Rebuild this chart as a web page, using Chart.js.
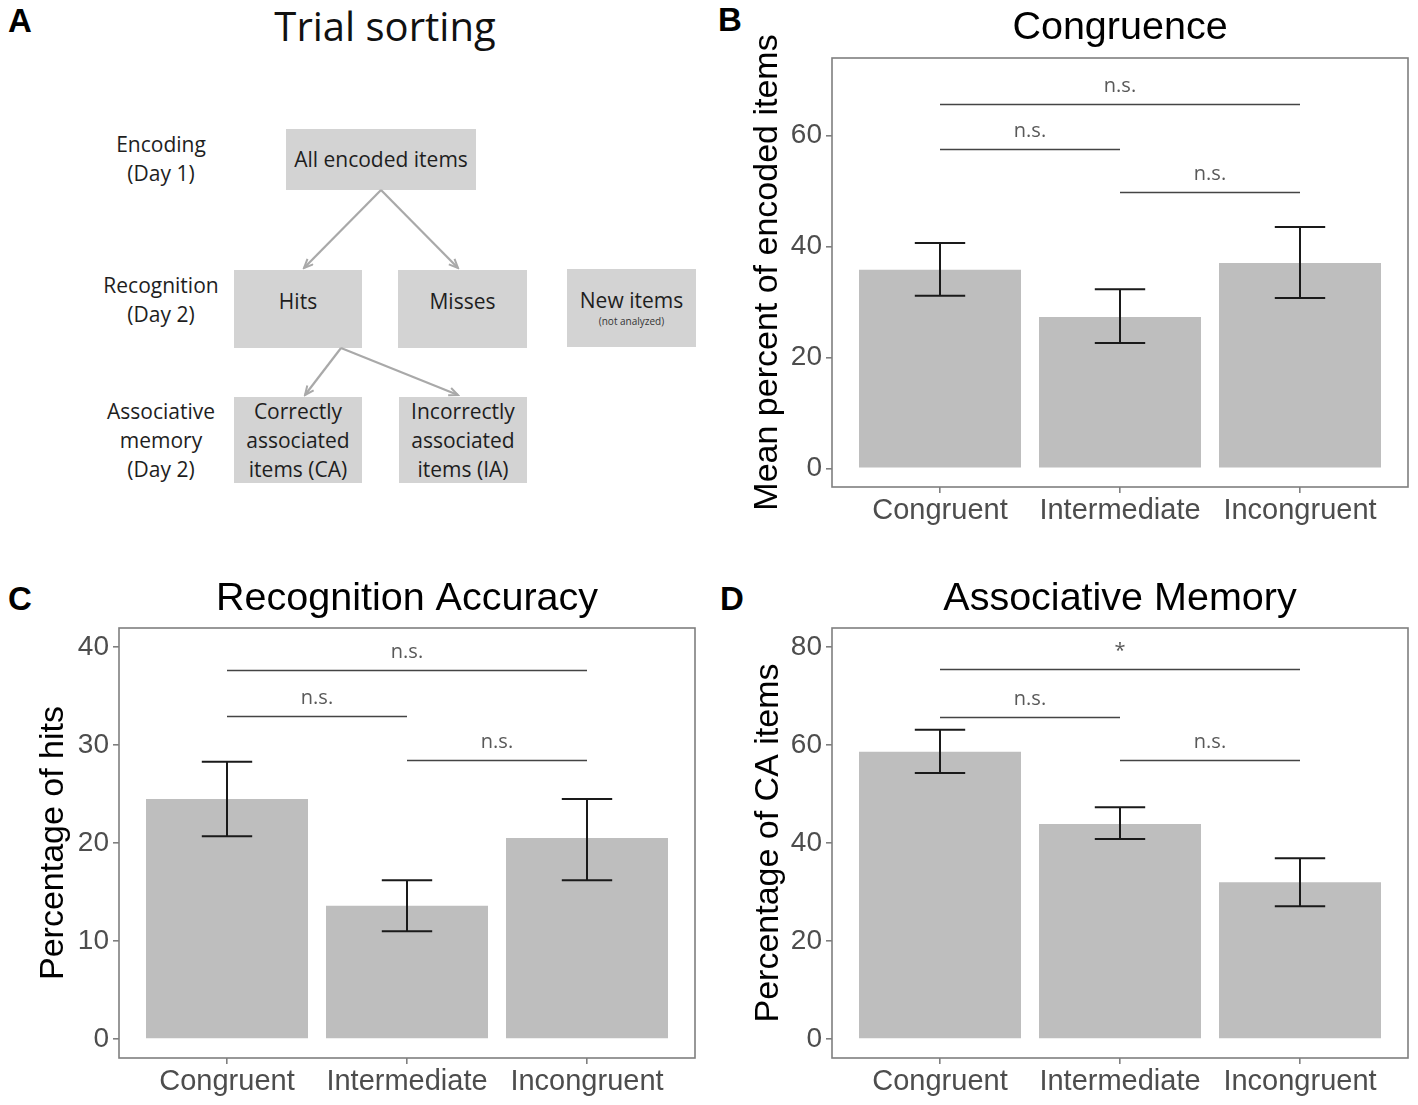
<!DOCTYPE html>
<html>
<head>
<meta charset="utf-8">
<script src="https://cdn.jsdelivr.net/npm/chart.js@4.4.1/dist/chart.umd.min.js"></script>
<style>
  html, body { margin: 0; padding: 0; background: #fff; }
  body { width: 1418px; height: 1105px; position: relative; overflow: hidden; }
  canvas { position: absolute; }
  .letter { position: absolute; font: bold 33px "Liberation Sans", Arial, sans-serif; color: #000; line-height: 1; }
  .flow { position: absolute; font-family: "Open Sans", sans-serif; color: #1e1e1e; }
  .box { position: absolute; background: #d3d3d3; display: flex; flex-direction: column;
         align-items: center; justify-content: center; text-align: center; font-size: 21px; line-height: 29px;
         box-sizing: border-box; }
  .lbl { position: absolute; text-align: center; font-size: 21px; line-height: 29px; width: 160px; }
  .small { font-size: 10px; line-height: 12px; color: #333; }
</style>
</head>
<body>

<!-- Panel A: flow diagram -->
<div class="letter" style="left:8px; top:4px;">A</div>
<div class="flow" style="left:185px; top:0px; width:400px; text-align:center; font-size:40px; line-height:52px; color:#111;">Trial sorting</div>

<div class="flow lbl" style="left:81px; top:130px;">Encoding<br>(Day 1)</div>
<div class="flow lbl" style="left:81px; top:271px;">Recognition<br>(Day 2)</div>
<div class="flow lbl" style="left:81px; top:397px;">Associative<br>memory<br>(Day 2)</div>

<div class="flow box" style="left:286px; top:129px; width:190px; height:61px;">All encoded items</div>
<div class="flow box" style="left:234px; top:270px; width:128px; height:78px; padding-bottom:16px;">Hits</div>
<div class="flow box" style="left:398px; top:270px; width:129px; height:78px; padding-bottom:16px;">Misses</div>
<div class="flow box" style="left:567px; top:269px; width:129px; height:78px; padding-bottom:4px;"><span>New items</span><span class="small">(not analyzed)</span></div>
<div class="flow box" style="left:234px; top:397px; width:128px; height:86px;">Correctly<br>associated<br>items (CA)</div>
<div class="flow box" style="left:399px; top:397px; width:128px; height:86px;">Incorrectly<br>associated<br>items (IA)</div>

<svg style="position:absolute; left:0; top:0;" width="710" height="500">
  <defs>
    <marker id="ah" markerWidth="12" markerHeight="12" refX="10" refY="5" orient="auto" markerUnits="userSpaceOnUse">
      <path d="M1,1 L10,5 L1,9" fill="none" stroke="#a9a9a9" stroke-width="2"/>
    </marker>
  </defs>
  <g stroke="#a9a9a9" stroke-width="2.2" marker-end="url(#ah)">
    <line x1="381" y1="190" x2="304" y2="268"/>
    <line x1="381" y1="190" x2="458" y2="268"/>
    <line x1="341" y1="348" x2="305" y2="395"/>
    <line x1="341" y1="348" x2="458" y2="395"/>
  </g>
</svg>

<!-- Panels B, C, D -->
<div class="letter" style="left:718px; top:3px;">B</div>
<div class="letter" style="left:8px; top:582px;">C</div>
<div class="letter" style="left:720px; top:582px;">D</div>

<canvas id="chartB" width="678" height="540" style="left:740px; top:0px;"></canvas>
<canvas id="chartC" width="690" height="535" style="left:20px; top:570px;"></canvas>
<canvas id="chartD" width="678" height="535" style="left:740px; top:570px;"></canvas>

<script>
// categories and tick labels
const categories = ['Congruent', 'Intermediate', 'Incongruent'];
const yTicksB = [0, 20, 40, 60];
const yTicksC = [0, 10, 20, 30, 40];
const yTicksD = [0, 20, 40, 60, 80];

// B: congruence (mean percent of encoded items)
const congruenceMean = [35.8, 27.3, 37.0];
const congruenceLow  = [31.1, 22.6, 30.7];
const congruenceHigh = [40.6, 32.3, 43.5];

// C: recognition accuracy (percentage of hits)
const hitsMean = [24.5, 13.6, 20.5];
const hitsLow  = [20.7, 11.0, 16.2];
const hitsHigh = [28.3, 16.2, 24.5];

// D: associative memory (percentage of CA items)
const caMean = [58.6, 43.9, 32.0];
const caLow  = [54.3, 40.8, 27.1];
const caHigh = [63.1, 47.3, 36.9];

// significance brackets (category positions 1..3)
const pairFrom = [1, 1, 2];
const pairTo   = [3, 2, 3];
const congruenceBracketY = [65.7, 57.6, 49.8];
const congruenceBracketLabel = ['n.s.', 'n.s.', 'n.s.'];
const hitsBracketY = [37.7, 33.0, 28.5];
const hitsBracketLabel = ['n.s.', 'n.s.', 'n.s.'];
const caBracketY = [75.5, 65.7, 56.9];
const caBracketLabel = ['*', 'n.s.', 'n.s.'];

const AXIS_GREY = '#7f7f7f';
const TEXT_GREY = '#4d4d4d';
const FONT = '"Liberation Sans", Arial, sans-serif';

// title, error bars, brackets and the panel frame
const extrasPlugin = {
    id: 'extras',
    afterDatasetsDraw(chart, args, o) {
        const ctx = chart.ctx;
        const x = chart.scales.x, y = chart.scales.y;
        const a = chart.chartArea;
        ctx.save();
        // title, centred on the plot panel
        ctx.fillStyle = '#000';
        ctx.font = '39.5px ' + FONT;
        ctx.textAlign = 'center';
        ctx.textBaseline = 'alphabetic';
        ctx.fillText(o.title, (a.left + a.right) / 2, o.titleBase);
        // error bars
        ctx.strokeStyle = '#1a1a1a';
        ctx.lineWidth = 2;
        o.low.forEach((lo, i) => {
            const cx = x.getPixelForValue(i + 1);
            const l = x.getPixelForValue(i + 1 - 0.14), r = x.getPixelForValue(i + 1 + 0.14);
            const yl = y.getPixelForValue(lo), yh = y.getPixelForValue(o.high[i]);
            ctx.beginPath();
            ctx.moveTo(cx, yl); ctx.lineTo(cx, yh);
            ctx.moveTo(l, yl); ctx.lineTo(r, yl);
            ctx.moveTo(l, yh); ctx.lineTo(r, yh);
            ctx.stroke();
        });
        // brackets
        ctx.strokeStyle = '#444';
        ctx.lineWidth = 1.5;
        ctx.fillStyle = '#595959';
        ctx.font = '20px "Open Sans", sans-serif';
        o.bracketY.forEach((by, i) => {
            const x1 = x.getPixelForValue(pairFrom[i]), x2 = x.getPixelForValue(pairTo[i]);
            const py = Math.round(y.getPixelForValue(by)) + 0.5;
            ctx.beginPath();
            ctx.moveTo(x1, py); ctx.lineTo(x2, py);
            ctx.stroke();
            ctx.fillText(o.bracketLabel[i], (x1 + x2) / 2, py - 13);
        });
        // frame
        ctx.strokeStyle = AXIS_GREY;
        ctx.lineWidth = 1.6;
        ctx.strokeRect(a.left, a.top, a.right - a.left, a.bottom - a.top);
        ctx.restore();
    }
};

function makePanel(id, p) {
    new Chart(document.getElementById(id), {
        type: 'bar',
        data: {
            datasets: [{
                data: p.mean.map((v, i) => ({ x: i + 1, y: v })),
                backgroundColor: '#bebebe',
                borderWidth: 0,
                barPercentage: 0.9,
                categoryPercentage: 1
            }]
        },
        options: {
            responsive: false,
            animation: false,
            devicePixelRatio: 1,
            layout: { padding: { right: p.padRight, top: 58, bottom: 0, left: 0 } },
            plugins: {
                legend: { display: false },
                tooltip: { enabled: false },
                title: { display: false },
                extras: {
                    title: p.title, titleBase: p.titleBase,
                    low: p.low, high: p.high, bracketY: p.bracketY, bracketLabel: p.bracketLabel
                }
            },
            scales: {
                x: {
                    type: 'linear',
                    min: 0.4, max: 3.6,
                    offset: false,
                    afterBuildTicks: ax => { ax.ticks = categories.map((c, i) => ({ value: i + 1 })); },
                    afterFit: ax => { ax.height = p.xHeight; },
                    grid: { offset: false, drawOnChartArea: false, drawTicks: true, tickLength: 6, color: AXIS_GREY, lineWidth: 1.6 },
                    border: { display: false },
                    ticks: {
                        callback: v => categories[v - 1],
                        color: TEXT_GREY,
                        font: { family: FONT, size: 29 },
                        padding: 1,
                        maxRotation: 0,
                        autoSkip: false
                    }
                },
                y: {
                    min: p.yMin, max: p.yMax,
                    afterBuildTicks: ax => { ax.ticks = p.yTicks.map(v => ({ value: v })); },
                    afterFit: ax => { ax.width = p.yWidth; },
                    grid: { drawOnChartArea: false, drawTicks: true, tickLength: 6, color: AXIS_GREY, lineWidth: 1.6 },
                    border: { display: false },
                    ticks: {
                        color: TEXT_GREY,
                        font: { family: FONT, size: 28 },
                        padding: 4
                    },
                    title: {
                        display: true,
                        text: p.yTitle,
                        color: '#000',
                        font: { family: FONT, size: 34 },
                        padding: { top: p.yTitlePad, bottom: 0 }
                    }
                }
            }
        },
        plugins: [extrasPlugin]
    });
}

makePanel('chartB', {
    title: 'Congruence', titleBase: 39,
    yTitle: 'Mean percent of encoded items', yTitlePad: 7,
    mean: congruenceMean, low: congruenceLow, high: congruenceHigh,
    bracketY: congruenceBracketY, bracketLabel: congruenceBracketLabel,
    yMin: -3.35, yMax: 73.95, yTicks: yTicksB,
    yWidth: 92, xHeight: 53, padRight: 10
});

makePanel('chartC', {
    title: 'Recognition Accuracy', titleBase: 40,
    yTitle: 'Percentage of hits', yTitlePad: 13,
    mean: hitsMean, low: hitsLow, high: hitsHigh,
    bracketY: hitsBracketY, bracketLabel: hitsBracketLabel,
    yMin: -1.94, yMax: 41.94, yTicks: yTicksC,
    yWidth: 99, xHeight: 47, padRight: 15
});

makePanel('chartD', {
    title: 'Associative Memory', titleBase: 40,
    yTitle: 'Percentage of CA items', yTitlePad: 8,
    mean: caMean, low: caLow, high: caHigh,
    bracketY: caBracketY, bracketLabel: caBracketLabel,
    yMin: -3.88, yMax: 83.88, yTicks: yTicksD,
    yWidth: 92, xHeight: 47, padRight: 10
});
</script>
</body>
</html>
